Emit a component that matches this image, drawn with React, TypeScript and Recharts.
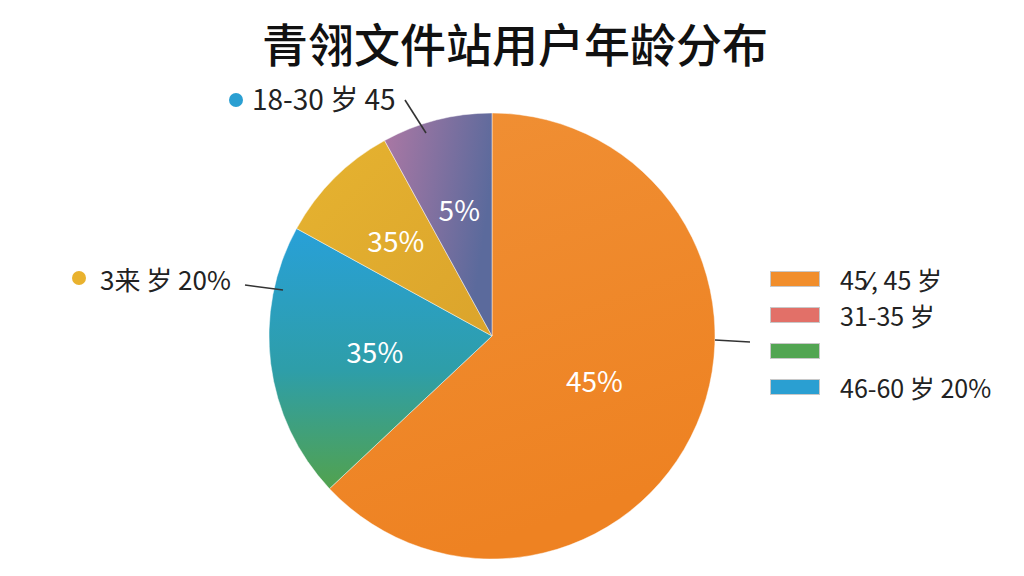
import { PieChart, Pie, Cell, Legend } from "recharts";

const TITLE = "青翎文件站用户年龄分布";
const SEGMENTS = ["45岁以上", "46-60岁", "3来岁", "18-30岁"];
const VALUES = [63, 20, 9, 8];
const SLICE_LABELS = ["45%", "35%", "35%", "5%"];
const LEGEND_LABELS = ["45⁄, 45 岁", "31-35 岁", "", "46-60 岁 20%"];
const LEGEND_COLORS = ["#F18E2C", "#E27068", "#52A552", "#2A9FD2"];
const CALLOUTS = ["18-30 岁 45", "3来 岁 20%"];

const data = SEGMENTS.map((name, i) => ({ name, value: VALUES[i], label: SLICE_LABELS[i] }));

const FILLS = ["url(#gOrange)", "url(#gTeal)", "url(#gGold)", "url(#gPurple)"];
const LABEL_R = [0.5, 0.53, 0.61, 0.59];
const FONT = "'Noto Sans CJK SC', 'Noto Sans', sans-serif";
const RAD = Math.PI / 180;

function renderLabel(p: any) {
  const r = p.outerRadius * LABEL_R[p.index];
  const x = p.cx + r * Math.cos(-p.midAngle * RAD);
  const y = p.cy + r * Math.sin(-p.midAngle * RAD);
  return (
    <text x={x} y={y} fill="#fff" fontSize={28} fontFamily={FONT} textAnchor="middle" dominantBaseline="central">
      {p.payload.label}
    </text>
  );
}

function LegendBox() {
  return (
    <div style={{ fontFamily: FONT }}>
      {LEGEND_LABELS.map((t, i) => (
        <div key={i} style={{ display: "flex", alignItems: "center", height: 36 }}>
          <div style={{ width: 50, height: 16, background: LEGEND_COLORS[i], border: "1px solid #c8c8c8", boxSizing: "border-box" }} />
          <span style={{ marginLeft: 20, fontSize: 25, lineHeight: 1, color: "#222" }}>{t}</span>
        </div>
      ))}
    </div>
  );
}

export default function App() {
  return (
    <div style={{ position: "absolute", left: 0, top: 0, width: 1024, height: 576, background: "#fff" }}>
      <div style={{ position: "absolute", top: 9, left: 0, width: 1030, textAlign: "center", fontFamily: FONT, fontSize: 46, fontWeight: 500, color: "#111" }}>
        {TITLE}
      </div>
      <PieChart width={1024} height={576} style={{ position: "absolute", left: 0, top: 0 }}>
        <defs>
          <linearGradient id="gOrange" x1="0" y1="0" x2="0.3" y2="1">
            <stop offset="0%" stopColor="#F09035" />
            <stop offset="100%" stopColor="#EE8222" />
          </linearGradient>
          <linearGradient id="gTeal" x1="0" y1="0" x2="0" y2="1">
            <stop offset="0%" stopColor="#28A0D8" />
            <stop offset="55%" stopColor="#2E9EA8" />
            <stop offset="100%" stopColor="#52A24E" />
          </linearGradient>
          <linearGradient id="gGold" x1="0" y1="0" x2="1" y2="1">
            <stop offset="0%" stopColor="#E6B330" />
            <stop offset="100%" stopColor="#DBA42C" />
          </linearGradient>
          <linearGradient id="gPurple" x1="0" y1="0" x2="1" y2="0.3">
            <stop offset="0%" stopColor="#AC78A4" />
            <stop offset="100%" stopColor="#5B6A9C" />
          </linearGradient>
        </defs>
        <Pie
          data={data}
          dataKey="value"
          nameKey="name"
          cx={487}
          cy={331}
          outerRadius={223}
          startAngle={90}
          endAngle={-270}
          stroke="rgba(255,255,255,0.45)"
          strokeWidth={1}
          label={renderLabel}
          labelLine={false}
          isAnimationActive={false}
        >
          {data.map((_, i) => (
            <Cell key={i} fill={FILLS[i]} />
          ))}
        </Pie>
        <Legend content={<LegendBox />} wrapperStyle={{ position: "absolute", left: 770, top: 261, width: 250 }} />
      </PieChart>
      <svg width={1024} height={576} style={{ position: "absolute", left: 0, top: 0, pointerEvents: "none" }}>
        <circle cx={236} cy={100} r={7} fill="#2A9FD2" />
        <text x={252} y={110} fontSize={28} fontFamily={FONT} fill="#222">{CALLOUTS[0]}</text>
        <line x1={405} y1={100} x2={426} y2={133} stroke="#333" strokeWidth={1.6} />
        <circle cx={79} cy={278} r={7} fill="#E9B22E" />
        <text x={100} y={290} fontSize={26} fontFamily={FONT} fill="#222">{CALLOUTS[1]}</text>
        <line x1={245} y1={285} x2={283} y2={290} stroke="#333" strokeWidth={1.6} />
        <line x1={715} y1={340} x2={750} y2={342} stroke="#333" strokeWidth={1.6} />
      </svg>
    </div>
  );
}
